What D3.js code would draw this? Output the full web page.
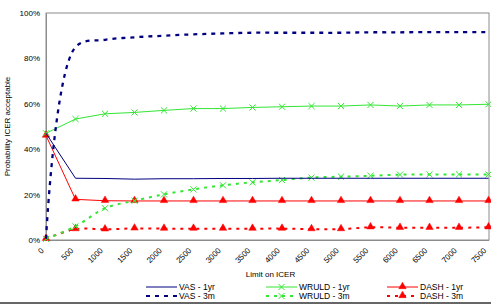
<!DOCTYPE html>
<html><head><meta charset="utf-8">
<script src="https://cdn.jsdelivr.net/npm/d3@7"></script>
<style>
html,body{margin:0;padding:0;background:#fff;}
text{font-family:"Liberation Sans",Arial,sans-serif;fill:#000;}
</style></head>
<body>
<svg id="chart" width="491" height="306"></svg>
<script>
const categories = ["0","500","1000","1500","2000","2500","3000","3500","4000","4500","5000","5500","6000","6500","7000","7500"];
const yTicks = [0,20,40,60,80,100];
const vas1yr   = [47,27.2,27.1,26.8,27.0,27.0,27.1,27.1,27.2,27.2,27.2,27.2,27.2,27.2,27.2,27.2];
const vas3m    = [0.5,85,88.2,89.3,90.0,90.6,91.0,91.3,91.3,91.3,91.3,91.5,91.5,91.6,91.6,91.6];
const wruld1yr = [47,53.3,55.6,56.2,57.1,57.9,57.9,58.4,58.7,59.0,59.0,59.5,59.0,59.5,59.5,59.8];
const wruld3m  = [0.5,6.0,14.0,17.3,20.1,22.3,24.1,25.4,26.4,27.5,27.9,28.3,28.8,28.9,28.9,28.9];
const dash1yr  = [46,17.9,17.3,17.2,17.2,17.2,17.2,17.2,17.2,17.2,17.2,17.2,17.2,17.2,17.2,17.2];
const dash3m   = [0.5,4.8,4.7,5.1,5.0,5.0,5.0,5.0,5.0,4.8,4.8,5.6,5.4,5.4,5.4,5.6];

const NAVY="#000080", GREEN="#33e633", RED="#ff0000";
const series = [
  {name:"VAS - 1yr", data:vas1yr, color:NAVY, width:1, dash:null, marker:null, smooth:false},
  {name:"VAS - 3m", data:vas3m, color:NAVY, width:2.3, dash:"4,5", marker:null, smooth:true},
  {name:"WRULD - 1yr", data:wruld1yr, color:GREEN, width:1, dash:null, marker:"x", smooth:false},
  {name:"WRULD - 3m", data:wruld3m, color:GREEN, width:2, dash:"3,5", marker:"x", smooth:true},
  {name:"DASH - 1yr", data:dash1yr, color:RED, width:1, dash:null, marker:"tri", smooth:false},
  {name:"DASH - 3m", data:dash3m, color:RED, width:2, dash:"3,5", marker:"tri", smooth:true}
];

const svg = d3.select("#chart");
const L=46, R=489, T=13, B=240;
const x = d3.scalePoint().domain(categories).range([L, R-0.5]).padding(0);
const y = d3.scaleLinear().domain([0,100]).range([B, T]);

svg.append("rect").attr("x",L).attr("y",T).attr("width",R-L).attr("height",B-T)
  .attr("fill","none").attr("stroke","#8c8c8c").attr("stroke-width",1);

const yAxis = d3.axisLeft(y).tickValues(yTicks).tickFormat(d=>d+"%").tickSize(0).tickPadding(6);
const gy = svg.append("g").attr("transform",`translate(${L},0)`).call(yAxis);
gy.select(".domain").attr("stroke","#8c8c8c");
gy.selectAll("text").attr("font-size","8px").attr("font-family","Liberation Sans, Arial, sans-serif").attr("fill","#111");

const xAxis = d3.axisBottom(x).tickSize(0).tickPadding(0);
const gx = svg.append("g").attr("transform",`translate(0,${B})`).call(xAxis);
gx.select(".domain").attr("stroke","#8c8c8c");
gx.selectAll("text").attr("font-size","8px").attr("font-family","Liberation Sans, Arial, sans-serif").attr("fill","#111")
  .attr("text-anchor","end").attr("dy",0)
  .attr("transform","translate(-2,11) rotate(-45)");

svg.append("text").attr("x",(L+R)/2+3).attr("y",277).attr("text-anchor","middle")
  .attr("font-size","8px").text("Limit on ICER");
svg.append("text").attr("transform",`translate(10,${(T+B)/2}) rotate(-90)`).attr("text-anchor","middle")
  .attr("font-size","8px").text("Probability ICER acceptable");

const lineStraight = d3.line().x((d,i)=>x(categories[i])).y(d=>y(d));
const lineSmooth = d3.line().x((d,i)=>x(categories[i])).y(d=>y(d)).curve(d3.curveCatmullRom.alpha(0.5));
const triSym = d3.symbol().type(d3.symbolTriangle).size(24);
const xSym = d3.symbol().type(d3.symbolX).size(26);

function drawMarker(g, type, color, cx, cy){
  if(type==="tri"){
    g.append("path").attr("d",triSym()).attr("transform",`translate(${cx},${cy-0.5})`).attr("fill",color).attr("stroke",color).attr("stroke-width",0.5);
  } else if(type==="x"){
    g.append("path").attr("d",xSym()).attr("transform",`translate(${cx},${cy})`).attr("fill","none").attr("stroke",color).attr("stroke-width",1);
  }
}

const drawOrder = [4,5,2,3,0,1];
drawOrder.forEach(k=>{
  const s = series[k];
  const g = svg.append("g");
  g.append("path").datum(s.data).attr("d",(s.smooth?lineSmooth:lineStraight))
    .attr("fill","none").attr("stroke",s.color).attr("stroke-width",s.width)
    .attr("stroke-dasharray",s.dash);
  if(s.marker){
    s.data.forEach((v,i)=>drawMarker(g,s.marker,s.color,x(categories[i]),y(v)));
  }
});

const legCols=[146,266,387], legRows=[287,296];
series.forEach((s,i)=>{
  const col=Math.floor(i/2), row=i%2;
  const lx=legCols[col], ly=legRows[row];
  const g=svg.append("g");
  g.append("line").attr("x1",lx).attr("x2",lx+31).attr("y1",ly).attr("y2",ly)
    .attr("stroke",s.color).attr("stroke-width",s.dash? 2:1).attr("stroke-dasharray",s.dash);
  if(s.marker) drawMarker(g,s.marker,s.color,lx+15.5,ly);
  g.append("text").attr("x",lx+33).attr("y",ly).attr("dy","0.35em").attr("font-size","8.5px").text(s.name);
});

svg.append("line").attr("x1",0).attr("x2",491).attr("y1",303).attr("y2",303).attr("stroke","#666").attr("stroke-width",2);
</script>
</body></html>
